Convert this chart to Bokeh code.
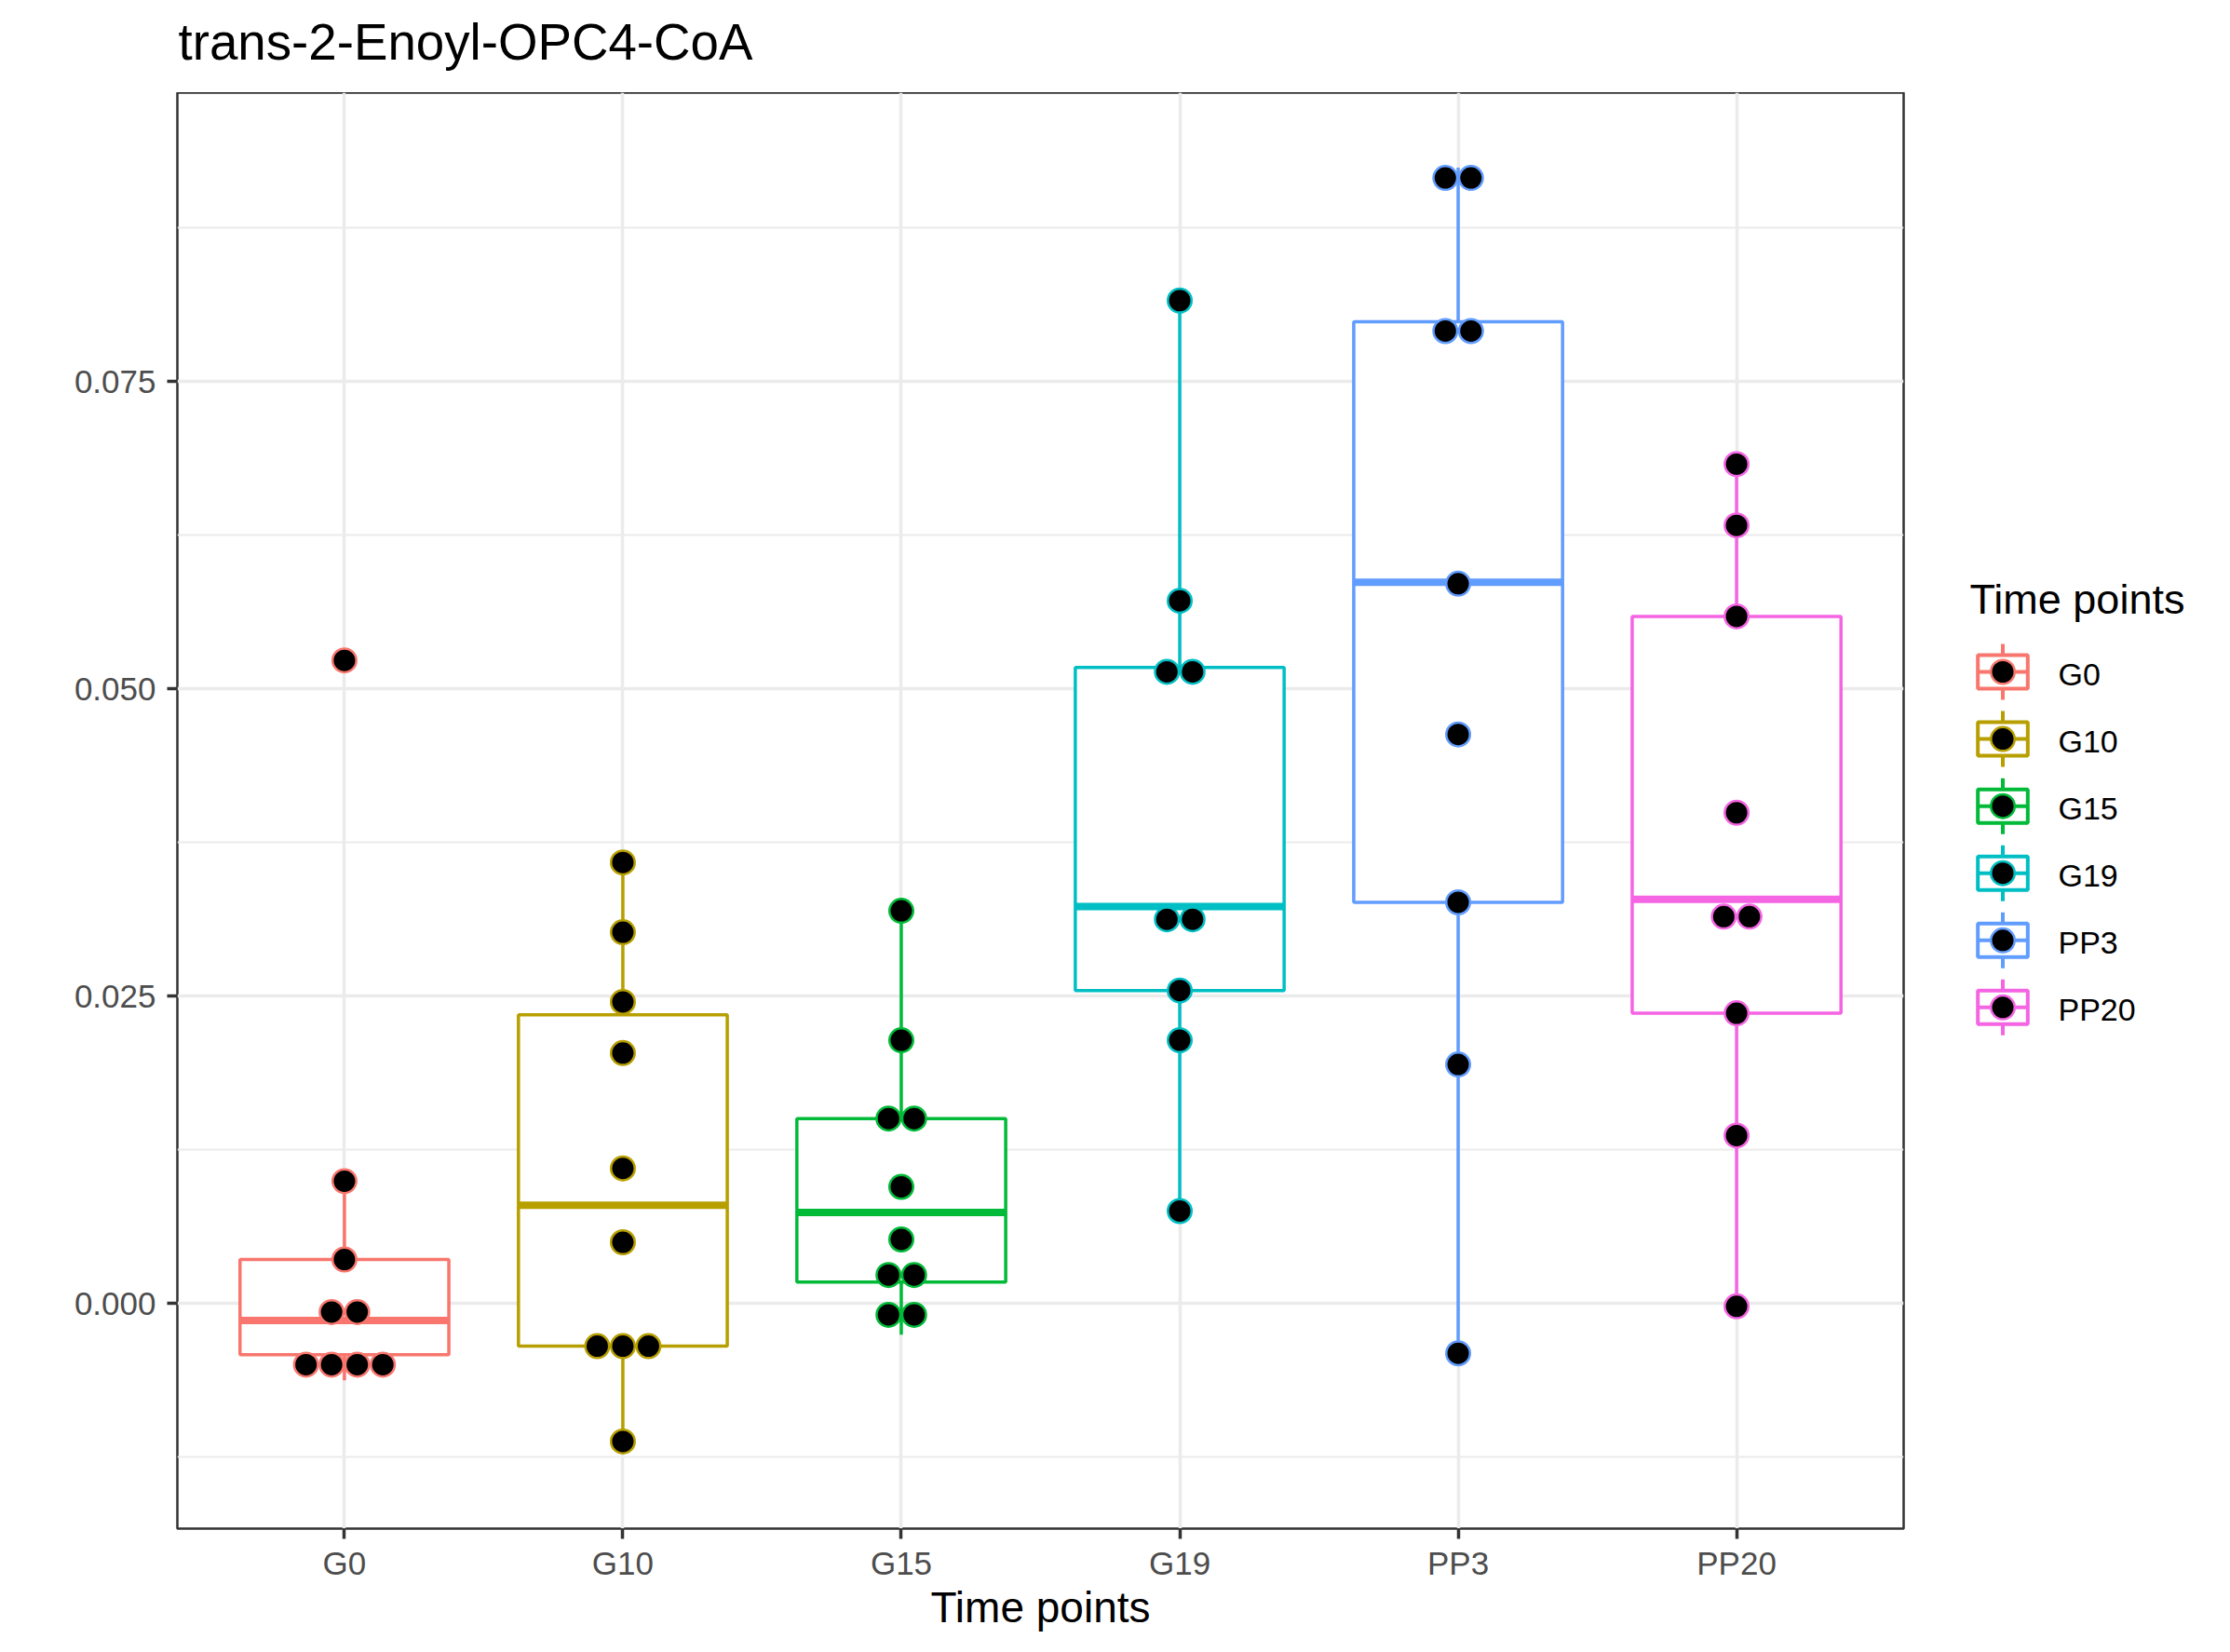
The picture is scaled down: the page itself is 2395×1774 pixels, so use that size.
import numpy as np
from bokeh.plotting import figure
from bokeh.models import Range1d, FixedTicker, PrintfTickFormatter
from bokeh.layouts import row, column
from bokeh.embed import file_html
from bokeh.resources import INLINE
from bokeh.core.properties import value

# ---------------- data ----------------
categories = ["G0", "G10", "G15", "G19", "PP3", "PP20"]
colors = ["#F8766D", "#B79F00", "#00BA38", "#00BFC4", "#619CFF", "#F564E3"]

q1 = [-0.00415, -0.00346, 0.00175, 0.02547, 0.03264, 0.02362]
median = [-0.00138, 0.00800, 0.00742, 0.03230, 0.05867, 0.03288]
q3 = [0.00360, 0.02350, 0.01505, 0.05174, 0.07987, 0.05590]
whisker_low = [-0.00624, -0.01121, -0.00253, 0.00753, -0.00404, -0.00022]
whisker_high = [0.00996, 0.03588, 0.03195, 0.08159, 0.09240, 0.06828]

outlier_group = ["G0"]
outlier_value = [0.05232]

dots_G0 = [0.05232, 0.00996, 0.00359, -0.00068, -0.00068,
           -0.00496, -0.00496, -0.00496, -0.00496]
dots_G10 = [0.03588, 0.03021, 0.02454, 0.02038, 0.01100, 0.00499,
            -0.00346, -0.00346, -0.00346, -0.01121]
dots_G15 = [0.03195, 0.02142, 0.01505, 0.01505, 0.00950, 0.00522,
            0.00233, 0.00233, -0.00091, -0.00091]
dots_G19 = [0.08159, 0.05717, 0.05139, 0.05139, 0.03126, 0.03126,
            0.02547, 0.02142, 0.00753]
dots_PP3 = [0.09156, 0.09156, 0.07911, 0.07911, 0.05856, 0.04630,
            0.03264, 0.01945, -0.00404]
dots_PP20 = [0.06828, 0.06330, 0.05590, 0.03993, 0.03148, 0.03148,
             0.02362, 0.01367, -0.00022]
dots = [dots_G0, dots_G10, dots_G15, dots_G19, dots_PP3, dots_PP20]

y_ticks = [0.0, 0.025, 0.05, 0.075]
y_minor_ticks = [-0.0125, 0.0125, 0.0375, 0.0625, 0.0875]

title_text = "trans-2-Enoyl-OPC4-CoA"
x_title = "Time points"
legend_title = "Time points"

# ---------------- style / layout ----------------
FONT = "Liberation Sans"
BORDER = "#333333"
GRID = "#EBEBEB"
BOX_W = 0.75
DOT_STEP = 0.092
LW = 3.5

TOTAL_W = 2395
TITLE_H = 99                 # page y of the panel's top edge
FRAME_L, FRAME_R = 190, 2044
FRAME_B = 1641
BOTTOM = 125
MAIN_W = 2084
BODY_H = FRAME_B - TITLE_H + BOTTOM

xs = np.arange(len(categories)) + 1.0

# ---- title strip ----
tfig = figure(width=TOTAL_W, height=TITLE_H,
              x_range=Range1d(FRAME_L, FRAME_R), y_range=Range1d(TITLE_H, 0),
              output_backend="svg", toolbar_location=None,
              min_border_left=FRAME_L, min_border_right=TOTAL_W - FRAME_R,
              min_border_top=0, min_border_bottom=0,
              x_axis_type=None, y_axis_type=None)
tfig.outline_line_color = None
tfig.background_fill_color = "white"
tfig.border_fill_color = "white"
tfig.text(x=[FRAME_L + 1], y=[44.5], text=[title_text], text_font=value(FONT),
          text_font_size="54.7px", text_baseline="middle", text_align="left",
          text_color="black")

# ---- main plot ----
p = figure(width=MAIN_W, height=BODY_H,
           x_range=Range1d(0.4, 6.6), y_range=Range1d(-0.0183, 0.0985),
           output_backend="svg", toolbar_location=None,
           min_border_left=FRAME_L, min_border_right=MAIN_W - FRAME_R,
           min_border_top=0, min_border_bottom=BOTTOM)
p.background_fill_color = "white"
p.border_fill_color = "white"
p.outline_line_color = BORDER
p.outline_line_width = 2.5

p.xaxis.ticker = FixedTicker(ticks=list(xs))
p.xaxis.major_label_overrides = {int(x): c for x, c in zip(xs, categories)}
p.xaxis.axis_label = x_title
p.yaxis.ticker = FixedTicker(ticks=y_ticks, minor_ticks=y_minor_ticks)
p.yaxis.formatter = PrintfTickFormatter(format="%.3f")

for ax in (p.xaxis, p.yaxis):
    ax.axis_line_color = None
    ax.major_tick_line_color = BORDER
    ax.major_tick_line_width = 3.5
    ax.major_tick_out = 11
    ax.major_tick_in = 0
    ax.minor_tick_line_color = None
    ax.major_label_text_font = FONT
    ax.major_label_text_font_size = "35px"
    ax.major_label_text_color = "#4D4D4D"
    ax.axis_label_text_font = FONT
    ax.axis_label_text_font_size = "46px"
    ax.axis_label_text_font_style = "normal"
    ax.axis_label_text_color = "black"
p.yaxis.major_label_standoff = 12
p.xaxis.major_label_standoff = 6
p.xaxis.axis_label_standoff = -1

p.xgrid.grid_line_color = GRID
p.xgrid.grid_line_width = 3.5
p.ygrid.grid_line_color = GRID
p.ygrid.grid_line_width = 3.5
p.ygrid.minor_grid_line_color = GRID
p.ygrid.minor_grid_line_width = 2

# whiskers
p.segment(x0=xs, y0=q3, x1=xs, y1=whisker_high, line_color=colors, line_width=LW)
p.segment(x0=xs, y0=q1, x1=xs, y1=whisker_low, line_color=colors, line_width=LW)
# boxes
p.vbar(x=xs, width=BOX_W, bottom=q1, top=q3, fill_color="white",
       line_color=colors, line_width=LW)
# medians
p.segment(x0=xs - BOX_W / 2, y0=median, x1=xs + BOX_W / 2, y1=median,
          line_color=colors, line_width=8)
# outliers (drawn under the dots)
ox = [xs[categories.index(g)] for g in outlier_group]
oc = [colors[categories.index(g)] for g in outlier_group]
p.scatter(x=ox, y=outlier_value, size=18, fill_color=oc, line_color=oc)

# dot plot (stacked, centred)
dx, dy, dc = [], [], []
for i, vals in enumerate(dots):
    bins = []
    for v in vals:
        if v not in bins:
            bins.append(v)
    for b in bins:
        n = vals.count(b)
        for k in range(n):
            dx.append(xs[i] + (k - (n - 1) / 2) * DOT_STEP)
            dy.append(b)
            dc.append(colors[i])
p.scatter(x=dx, y=dy, size=25.5, fill_color="black", line_color=dc, line_width=2.5)

# ---- legend panel (pixel-like coordinates) ----
LEG_W = TOTAL_W - MAIN_W
leg = figure(width=LEG_W, height=BODY_H,
             x_range=Range1d(MAIN_W, TOTAL_W), y_range=Range1d(FRAME_B, TITLE_H),
             output_backend="svg", toolbar_location=None,
             min_border_left=0, min_border_right=0,
             min_border_top=0, min_border_bottom=BOTTOM,
             x_axis_type=None, y_axis_type=None)
leg.outline_line_color = None
leg.background_fill_color = "white"
leg.border_fill_color = "white"

leg.text(x=[2115], y=[642.6], text=[legend_title], text_font=value(FONT),
         text_font_size="45px", text_baseline="middle", text_align="left",
         text_color="black")

KEY_X, KEY_Y0, KEY_STEP = 2150.5, 721.0, 72.07
KEY_BW, KEY_BH, KEY_WH = 53.6, 36, 30
ky = [KEY_Y0 + i * KEY_STEP for i in range(len(categories))]
kx = [KEY_X] * len(categories)
leg.segment(x0=kx, y0=[y - KEY_WH for y in ky], x1=kx, y1=[y + KEY_WH for y in ky],
            line_color=colors, line_width=4)
leg.rect(x=kx, y=ky, width=KEY_BW, height=KEY_BH, fill_color="white", line_color=colors,
         line_width=4)
leg.segment(x0=[KEY_X - KEY_BW / 2] * len(ky), y0=ky, x1=[KEY_X + KEY_BW / 2] * len(ky), y1=ky,
            line_color=colors, line_width=4)
leg.scatter(x=kx, y=ky, size=25.5, fill_color="black", line_color=colors, line_width=2.5)
leg.text(x=[2210] * len(ky), y=[y + 2.4 for y in ky], text=categories, text_font=value(FONT),
         text_font_size="34px", text_baseline="middle", text_align="left",
         text_color="black")

layout = column(tfig, row(p, leg))
open("out.html", "w").write(file_html(layout, INLINE))
